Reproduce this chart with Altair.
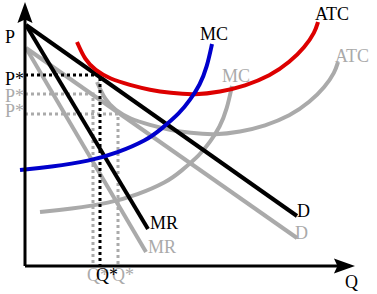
import altair as alt
import pandas as pd

# ---- values (Q = quantity, P = price) ----
d_black_q = [1, 272];   d_black_p = [241, 50]
mr_black_q = [1, 123];  mr_black_p = [241, 37]
d_gray_q = [1, 272];    d_gray_p = [218, 28]
mr_gray_q = [1, 121];   mr_gray_p = [218, 14]

atc_q = [52, 60, 70, 85, 105, 125, 145, 170, 195, 220, 245, 265, 280, 290, 293]
atc_p = [224, 206, 196, 187, 181, 176, 173, 171, 174, 180, 190, 204, 219, 234, 244]
atc2_q = [72, 80, 90, 105, 125, 145, 165, 190, 215, 240, 265, 285, 300, 310, 313]
atc2_p = [184, 166, 156, 147, 141, 136, 133, 131, 134, 140, 150, 164, 179, 194, 204]

mc_q = [-5, 25, 65, 92, 122, 135, 155, 165, 175, 182, 187]
mc_p = [96, 99, 105, 113, 126, 136, 153, 166, 181, 199, 222]
mc2_q = [15, 45, 85, 112, 142, 155, 175, 185, 195, 202, 207]
mc2_p = [54, 57, 63, 71, 84, 94, 111, 124, 139, 157, 180]

# equilibrium points (Q*, P*)
eq_black = (75, 191)
eq_gray1 = (68, 172)
eq_gray2 = (93, 152)

axis_top = 256
axis_right = 325

labels_text = ["P", "P*", "P*", "P*", "MC", "ATC", "MC", "ATC", "D", "D", "MR", "MR", "Q", "Q*", "Q*", "Q*"]
labels_q = [-20, -20, -20, -20, 175, 290, 197, 310, 272, 270, 125, 123, 320, 62, 87, 71]
labels_p = [223, 181, 164, 149, 226, 246, 184, 204, 49, 27, 37, 13, -22, -15, -15, -15]
labels_col = ["black", "black", "gray", "gray", "black", "black", "gray", "gray",
              "black", "gray", "black", "gray", "black", "gray", "gray", "black"]

BLACK = "#000000"
GRAY = "#aaaaaa"
RED = "#dd0000"
BLUE = "#0000cc"

xs = alt.Scale(domain=[-25, 352], nice=False, zero=False)
ys = alt.Scale(domain=[-28, 266], nice=False, zero=False)


def curve(q, p, color, width=4, dash=None, interp="linear"):
    df = pd.DataFrame({"q": q, "p": p, "i": list(range(len(q)))})
    kw = dict(color=color, strokeWidth=width, interpolate=interp, clip=False, strokeCap="butt")
    if dash:
        kw["strokeDash"] = dash
    return alt.Chart(df).mark_line(**kw).encode(
        x=alt.X("q:Q", scale=xs, axis=None),
        y=alt.Y("p:Q", scale=ys, axis=None),
        order="i:Q",
    )


def dotted(eq, color):
    qq, pp = eq
    return curve([0, qq, qq], [pp, pp, 0], color, width=3, dash=[3, 3])


layers = []
# gray (shifted) set
layers.append(curve(mc2_q, mc2_p, GRAY, interp="basis"))
layers.append(curve(atc2_q, atc2_p, GRAY, interp="basis"))
layers.append(curve(d_gray_q, d_gray_p, GRAY))
layers.append(curve(mr_gray_q, mr_gray_p, GRAY))
layers.append(dotted(eq_gray1, GRAY))
layers.append(dotted(eq_gray2, GRAY))
# black set
layers.append(curve(d_black_q, d_black_p, BLACK))
layers.append(curve(mr_black_q, mr_black_p, BLACK))
layers.append(dotted(eq_black, BLACK))
layers.append(curve(atc_q, atc_p, RED, interp="basis"))
layers.append(curve(mc_q, mc_p, BLUE, interp="basis"))

# axes
layers.append(curve([0, 0], [0, axis_top], BLACK, width=3))
layers.append(curve([0, axis_right], [0, 0], BLACK, width=3))

arrow_df_up = pd.DataFrame({"q": [0], "p": [251]})
arrow_df_right = pd.DataFrame({"q": [317], "p": [0]})
up_path = "M0,-1 L0.58,0.62 L0,0.35 L-0.58,0.62 Z"
right_path = "M1,0 L-0.62,0.58 L-0.35,0 L-0.62,-0.58 Z"
layers.append(alt.Chart(arrow_df_up).mark_point(
    shape=up_path, size=676, filled=True, color=BLACK, opacity=1, strokeWidth=0
).encode(x=alt.X("q:Q", scale=xs, axis=None), y=alt.Y("p:Q", scale=ys, axis=None)))
layers.append(alt.Chart(arrow_df_right).mark_point(
    shape=right_path, size=676, filled=True, color=BLACK, opacity=1, strokeWidth=0
).encode(x=alt.X("q:Q", scale=xs, axis=None), y=alt.Y("p:Q", scale=ys, axis=None)))

lab = pd.DataFrame({"t": labels_text, "q": labels_q, "p": labels_p, "c": labels_col})
layers.append(alt.Chart(lab).mark_text(
    font="Liberation Serif", fontSize=18, align="left", baseline="alphabetic"
).encode(
    x=alt.X("q:Q", scale=xs, axis=None),
    y=alt.Y("p:Q", scale=ys, axis=None),
    text="t:N",
    color=alt.Color("c:N", scale=alt.Scale(domain=["black", "gray"], range=[BLACK, GRAY]), legend=None),
))

chart = alt.layer(*layers).properties(
    width=377, height=294, padding=0, autosize=alt.AutoSizeParams(type="none"),
    background="white",
).configure_view(stroke=None)

chart.save("out.html", embed_options={"renderer": "svg", "actions": False})
